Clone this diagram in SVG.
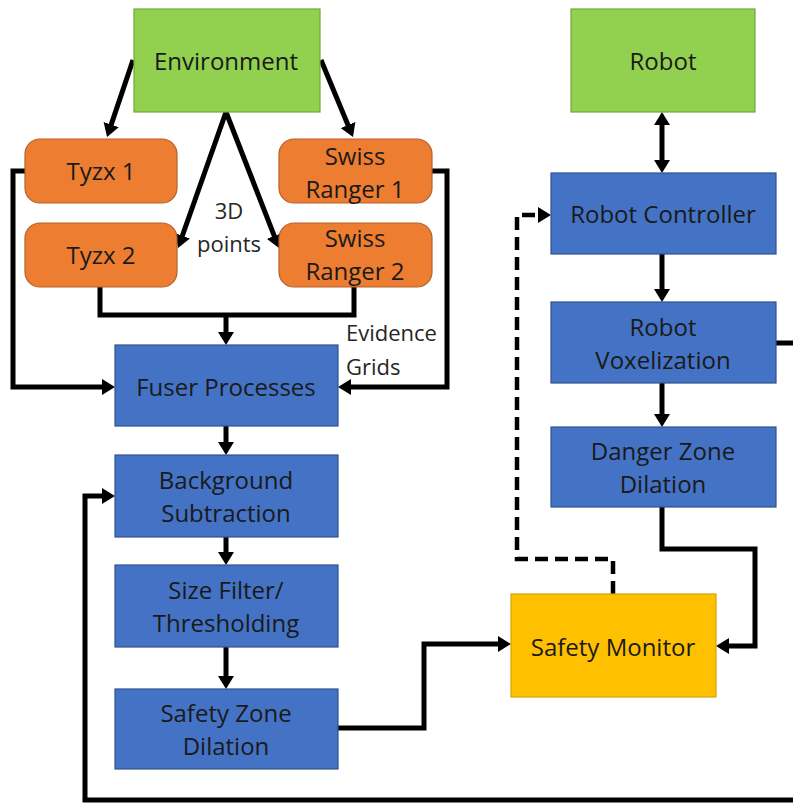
<svg xmlns="http://www.w3.org/2000/svg" width="793" height="804" viewBox="0 0 793 804">
<style>
  .green { fill: #92D050; stroke: #6FA83A; stroke-width: 1.2; }
  .orange { fill: #ED7D31; stroke: #B5602A; stroke-width: 1.2; }
  .blue { fill: #4472C4; stroke: #2F528F; stroke-width: 1.2; }
  .gold { fill: #FFC000; stroke: #D9A400; stroke-width: 1.2; }
  .t { font-family: "Open Sans", "Liberation Sans", sans-serif; font-size: 24px; fill: #1a1a1a; text-anchor: middle; dominant-baseline: central; }
  .ann { font-family: "Open Sans", "Liberation Sans", sans-serif; font-size: 22px; fill: #262626; }
  .ln { fill: none; stroke: #000; stroke-width: 5; stroke-linejoin: miter; }
  .dash { fill: none; stroke: #000; stroke-width: 4.5; stroke-dasharray: 13 7; }
</style>
<defs>
  <marker id="ah" viewBox="0 0 13 16" refX="5" refY="8" markerWidth="13" markerHeight="16" markerUnits="userSpaceOnUse" orient="auto-start-reverse">
    <path d="M0,0 L13,8 L0,16 z" fill="#000"/>
  </marker>
</defs>
<rect width="793" height="804" fill="#fff"/>

<g id="connectors">
  <path class="ln" d="M133,60 L109.6,129.4" marker-end="url(#ah)"/>
  <path class="ln" d="M321,60 L349.9,129.6" marker-end="url(#ah)"/>
  <path class="ln" d="M226,112 L180.7,240.5" marker-end="url(#ah)"/>
  <path class="ln" d="M226,112 L276.1,240.6" marker-end="url(#ah)"/>
  <path class="ln" d="M25,171 H13 V387 H107" marker-end="url(#ah)"/>
  <path class="ln" d="M432,171 H447 V387 H346" marker-end="url(#ah)"/>
  <path class="ln" d="M100,287 V315 H354 V287"/>
  <path class="ln" d="M226,315 V337" marker-end="url(#ah)"/>
  <path class="ln" d="M226,426 V447" marker-end="url(#ah)"/>
  <path class="ln" d="M226,537 V557" marker-end="url(#ah)"/>
  <path class="ln" d="M226,647 V681" marker-end="url(#ah)"/>
  <path class="ln" d="M338,728 H424 V644 H503" marker-end="url(#ah)"/>
  <path class="ln" d="M662,507 V549 H755 V646 H724" marker-end="url(#ah)"/>
  <path class="ln" d="M662,120 V165" marker-start="url(#ah)" marker-end="url(#ah)"/>
  <path class="ln" d="M662,254 V294" marker-end="url(#ah)"/>
  <path class="ln" d="M662,383 V419" marker-end="url(#ah)"/>
  <path class="ln" d="M776,343 H795"/>
  <path class="ln" d="M795,800 H85 V496 H107" marker-end="url(#ah)"/>
  <path class="dash" d="M613,594 V559 H517 V215 H543" marker-end="url(#ah)"/>
</g>

<g id="environment"><rect class="green" x="134" y="9" width="186" height="103"/><text class="t" x="226" y="60">Environment</text></g>
<g id="robot"><rect class="green" x="571" y="9" width="184" height="103"/><text class="t" x="663" y="60">Robot</text></g>
<g id="tyzx1"><rect class="orange" x="25" y="139" width="152" height="64" rx="15"/><text class="t" x="101" y="170">Tyzx 1</text></g>
<g id="swiss1"><rect class="orange" x="279" y="139" width="153" height="64" rx="15"/><text class="t" x="355" y="155">Swiss</text><text class="t" x="355" y="188">Ranger 1</text></g>
<g id="tyzx2"><rect class="orange" x="25" y="223" width="152" height="64" rx="15"/><text class="t" x="101" y="254">Tyzx 2</text></g>
<g id="swiss2"><rect class="orange" x="279" y="223" width="153" height="64" rx="15"/><text class="t" x="355" y="237">Swiss</text><text class="t" x="355" y="270">Ranger 2</text></g>
<g id="fuser"><rect class="blue" x="115" y="345" width="223" height="81"/><text class="t" x="226" y="386">Fuser Processes</text></g>
<g id="background"><rect class="blue" x="115" y="455" width="223" height="82"/><text class="t" x="226" y="479">Background</text><text class="t" x="226" y="512">Subtraction</text></g>
<g id="sizefilter"><rect class="blue" x="115" y="565" width="223" height="82"/><text class="t" x="226" y="589">Size Filter/</text><text class="t" x="226" y="622">Thresholding</text></g>
<g id="safetyzone"><rect class="blue" x="115" y="689" width="223" height="80"/><text class="t" x="226" y="712">Safety Zone</text><text class="t" x="226" y="745">Dilation</text></g>
<g id="controller"><rect class="blue" x="551" y="173" width="225" height="81"/><text class="t" x="663" y="213">Robot Controller</text></g>
<g id="voxel"><rect class="blue" x="551" y="302" width="225" height="81"/><text class="t" x="663" y="326">Robot</text><text class="t" x="663" y="359">Voxelization</text></g>
<g id="danger"><rect class="blue" x="551" y="427" width="225" height="80"/><text class="t" x="663" y="450">Danger Zone</text><text class="t" x="663" y="483">Dilation</text></g>
<g id="monitor"><rect class="gold" x="511" y="594" width="205" height="103"/><text class="t" x="613" y="646">Safety Monitor</text></g>

<g id="labels">
  <text class="ann" x="229" y="219" text-anchor="middle">3D</text>
  <text class="ann" x="229" y="252" text-anchor="middle">points</text>
  <text class="ann" x="346" y="341">Evidence</text>
  <text class="ann" x="346" y="375">Grids</text>
</g>
</svg>
